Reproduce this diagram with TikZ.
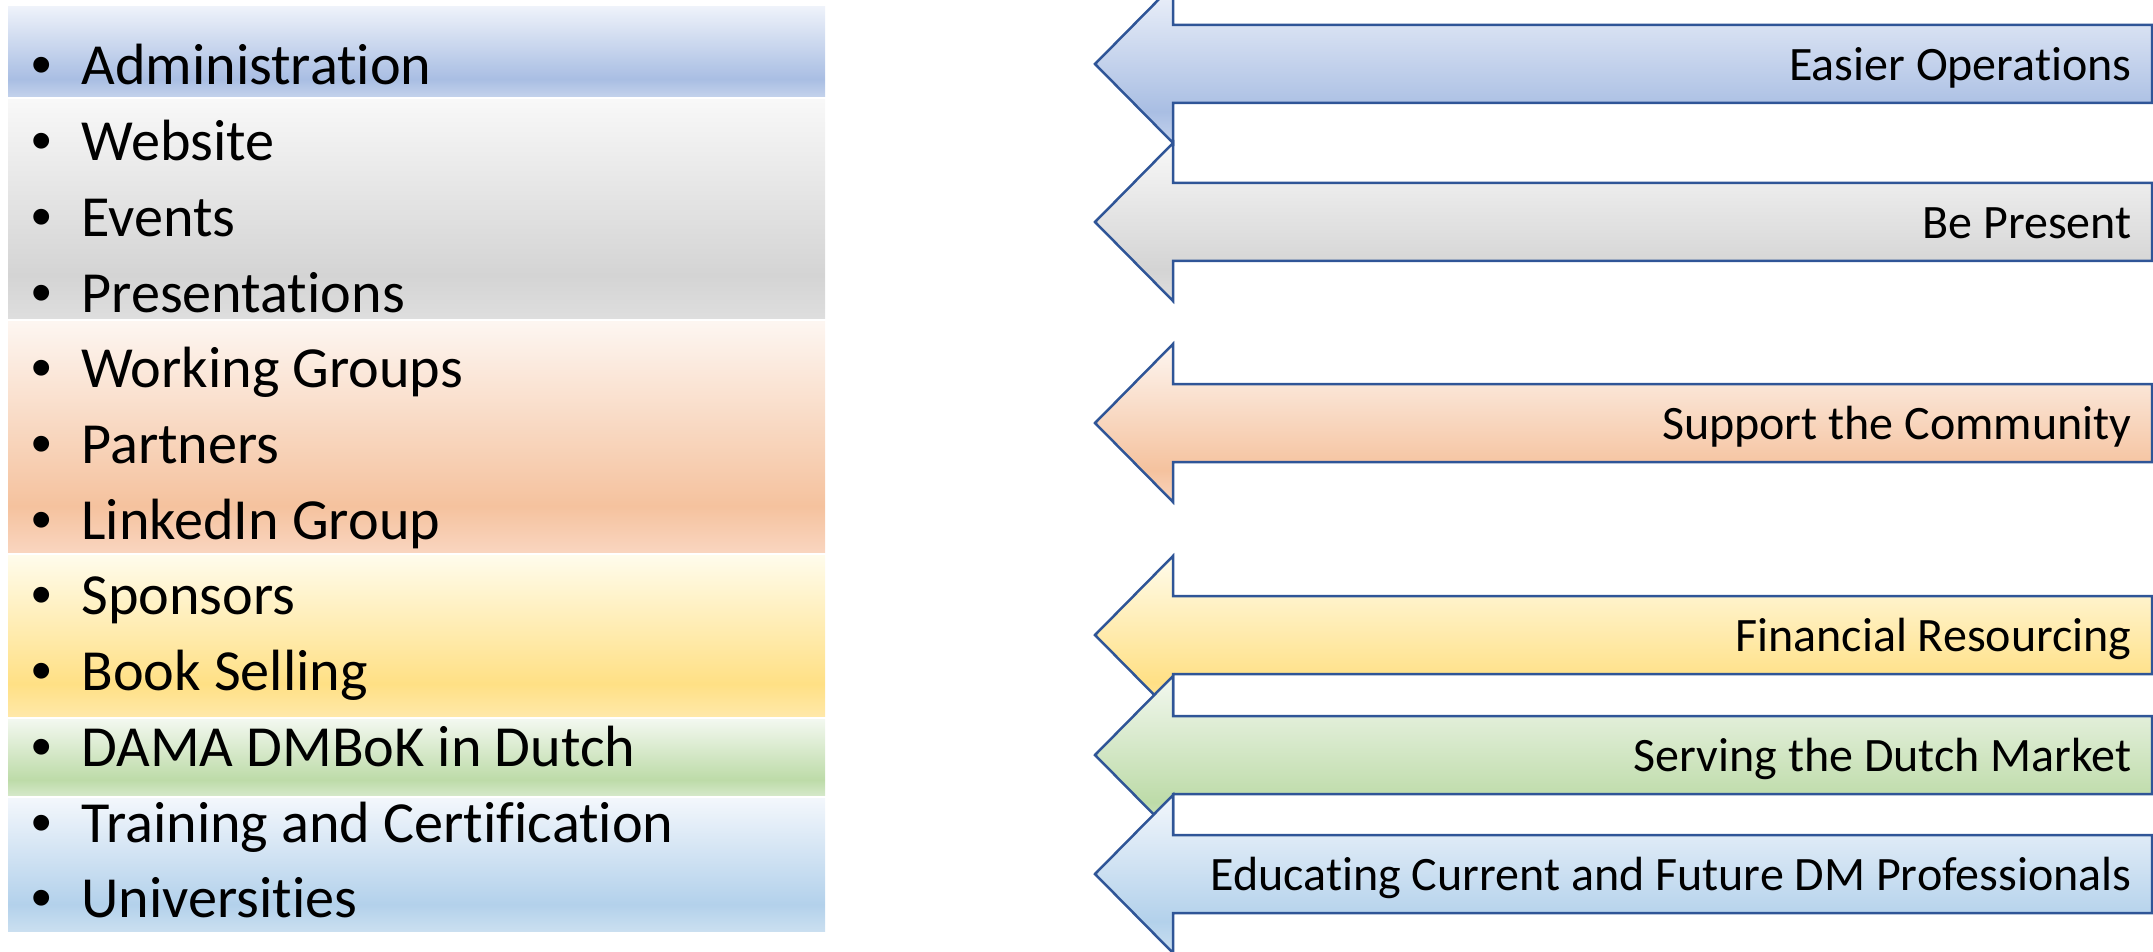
\documentclass[tikz,border=0pt]{standalone}
\usepackage{fontspec}
\setmainfont{Carlito}[Ligatures={NoCommon,NoDiscretionary,NoRare}]
\newfontfamily\bulfont{Liberation Sans}
\definecolor{arrowblue}{HTML}{2F5597}
\definecolor{bA1}{HTML}{EEF2FA}\definecolor{bA2}{HTML}{A9BEE3}\definecolor{bA3}{HTML}{C4D2EC}
\definecolor{gA1}{HTML}{F8F8F8}\definecolor{gA2}{HTML}{D4D4D4}\definecolor{gA3}{HTML}{DEDEDE}
\definecolor{oA1}{HTML}{FDF6F1}\definecolor{oA2}{HTML}{F5C29E}\definecolor{oA3}{HTML}{F9D5BF}
\definecolor{yA1}{HTML}{FFFCEC}\definecolor{yA2}{HTML}{FFE085}\definecolor{yA3}{HTML}{FFE8A8}
\definecolor{nA1}{HTML}{F3F8F0}\definecolor{nA2}{HTML}{BDDBA8}\definecolor{nA3}{HTML}{D4E8C8}
\definecolor{lA1}{HTML}{F3F7FC}\definecolor{lA2}{HTML}{B3D1EB}\definecolor{lA3}{HTML}{CADFF0}
\newcommand\dmshade[4]{\pgfdeclareverticalshading{#1}{100bp}{color(0bp)=(#4); color(25bp)=(#4); color(35bp)=(#3); color(75bp)=(#2); color(100bp)=(#2)}}
\dmshade{shblue}{bA1}{bA2}{bA3}
\dmshade{shgray}{gA1}{gA2}{gA3}
\dmshade{shorange}{oA1}{oA2}{oA3}
\dmshade{shyellow}{yA1}{yA2}{yA3}
\dmshade{shgreen}{nA1}{nA2}{nA3}
\dmshade{shlblue}{lA1}{lA2}{lA3}
\tikzset{
  lefttext/.style={anchor=base west, inner sep=0pt, font=\fontsize{29.1}{34}\selectfont},
  bulletmark/.style={anchor=base, inner sep=0pt, font=\bulfont\fontsize{29.1}{34}\selectfont},
  arrowtext/.style={anchor=base east, inner sep=0pt, font=\fontsize{24}{28}\selectfont},
  arrowline/.style={draw=arrowblue, line width=1.25pt, line join=miter}
}
\begin{document}
\begin{tikzpicture}[x=0.5pt, y=-0.5pt]
\useasboundingbox (0,0) rectangle (2153,952);
\clip (0,0) rectangle (2153,952);
% left bands
\path[shading=shblue]   (8,7)   rectangle (825,97);
\path[shading=shgray]   (8,100) rectangle (825,319);
\path[shading=shorange] (8,322) rectangle (825,552);
\path[shading=shyellow] (8,555) rectangle (825,716);
\path[shading=shgreen]  (8,719) rectangle (825,795);
\path[shading=shlblue]  (8,798) rectangle (825,931);
% bullet list
\foreach \t [count=\k from 0] in {Administration, Website, Events, Presentations, Working Groups, Partners, LinkedIn Group, Sponsors, Book Selling, DAMA DMBoK in Dutch, Training and Certification, Universities}{
  \node[bulletmark] (b\k) at (42,{85+75.7*\k}) {•};
  \node[lefttext] (t\k) at (81,{85+75.7*\k}) {\t};
}
% arrows
\foreach \c/\txt/\sh [count=\k] in {64/Easier Operations/shblue, 222/Be Present/shgray, 423/Support the Community/shorange, 635/Financial Resourcing/shyellow, 755/Serving the Dutch Market/shgreen, 874/Educating Current and Future DM Professionals/shlblue}{
  \path[arrowline, shading=\sh] (2152,{\c-39}) -- (1173,{\c-39}) -- (1173,{\c-79}) -- (1095,\c) -- (1173,{\c+79}) -- (1173,{\c+39}) -- (2152,{\c+39}) -- cycle;
  \node[arrowtext] (a\k) at (2132,{\c+16.5}) {\txt};
}
\end{tikzpicture}
\end{document}
